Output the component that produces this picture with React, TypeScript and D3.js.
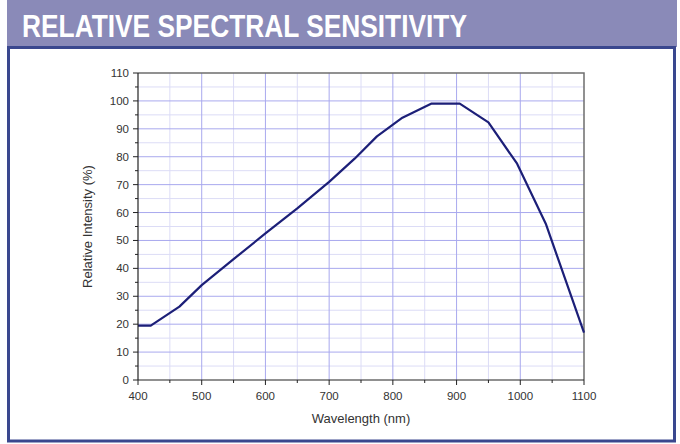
import * as d3 from "d3";
import React from "react";

// wavelength (nm) and relative intensity (%)
const wavelengths = [400, 420, 465, 500, 550, 600, 650, 700, 740, 775, 815, 860, 905, 950, 995, 1040, 1100];
const intensity = [19.5, 19.5, 26.3, 34, 43.3, 52.5, 61.5, 71, 79.3, 87.3, 94, 99, 99, 92.3, 77.5, 56, 17];

const xTicks = [400, 500, 600, 700, 800, 900, 1000, 1100];
const yTicks = [0, 10, 20, 30, 40, 50, 60, 70, 80, 90, 100, 110];

const App = () => {
  const margin = { top: 73, left: 138, right: 584, bottom: 380 };

  const x = d3.scaleLinear().domain([400, 1100]).range([margin.left, margin.right]);
  const y = d3.scaleLinear().domain([0, 110]).range([margin.bottom, margin.top]);

  const xMinor = d3.range(450, 1100, 100);
  const yMinor = d3.range(5, 110, 10);

  const line = d3
    .line<number>()
    .x((d, i) => x(wavelengths[i]))
    .y(d => y(d));

  const font = "Liberation Sans, Arial, sans-serif";

  return (
    <svg
      width={680}
      height={444}
      style={{ position: "absolute", left: 0, top: 0, background: "#fff" }}
    >
      {/* header band */}
      <rect x={7} y={0} width={670} height={47} fill="#8a8ab8" />
      <text
        x={22}
        y={37}
        fill="#fff"
        fontFamily="Liberation Sans Narrow, Liberation Sans, Arial, sans-serif"
        fontWeight="bold"
        fontSize={32}
        textLength={445}
        lengthAdjust="spacingAndGlyphs"
      >
        RELATIVE SPECTRAL SENSITIVITY
      </text>
      <rect x={8.5} y={47.5} width={666} height={393.5} fill="#fff" stroke="#3a478e" strokeWidth={3} />

      {/* grid */}
      <g>
        {xMinor.map(v => (
          <line key={"xm" + v} x1={x(v)} x2={x(v)} y1={margin.top} y2={margin.bottom} stroke="#dcdcf6" strokeWidth={1} />
        ))}
        {yMinor.map(v => (
          <line key={"ym" + v} x1={margin.left} x2={margin.right} y1={y(v)} y2={y(v)} stroke="#dcdcf6" strokeWidth={1} />
        ))}
        {xTicks.slice(1, -1).map(v => (
          <line key={"xg" + v} x1={x(v)} x2={x(v)} y1={margin.top} y2={margin.bottom} stroke="#a9a9ee" strokeWidth={1} />
        ))}
        {yTicks.slice(1, -1).map(v => (
          <line key={"yg" + v} x1={margin.left} x2={margin.right} y1={y(v)} y2={y(v)} stroke="#a9a9ee" strokeWidth={1} />
        ))}
      </g>

      {/* frame top/right */}
      <path
        d={`M${margin.left},${margin.top}H${margin.right}V${margin.bottom}`}
        fill="none"
        stroke="#6e6e6e"
        strokeWidth={1.5}
      />

      {/* curve */}
      <path d={line(intensity) || ""} fill="none" stroke="#1c1f78" strokeWidth={2.2} strokeLinejoin="round" />

      {/* axes */}
      <line x1={margin.left} x2={margin.right} y1={margin.bottom} y2={margin.bottom} stroke="#222" strokeWidth={1.2} />
      <line x1={margin.left} x2={margin.left} y1={margin.top} y2={margin.bottom} stroke="#222" strokeWidth={1.2} />

      {xTicks.map(v => (
        <g key={"xt" + v}>
          <line x1={x(v)} x2={x(v)} y1={margin.bottom} y2={margin.bottom + 5} stroke="#222" />
          <text x={x(v)} y={400} textAnchor="middle" fontFamily={font} fontSize={11.5} fill="#333">
            {v}
          </text>
        </g>
      ))}
      {xMinor.map(v => (
        <line key={"xmt" + v} x1={x(v)} x2={x(v)} y1={margin.bottom} y2={margin.bottom + 3} stroke="#222" />
      ))}
      {yTicks.map(v => (
        <g key={"yt" + v}>
          <line x1={margin.left - 5} x2={margin.left} y1={y(v)} y2={y(v)} stroke="#222" />
          <text x={margin.left - 9} y={y(v) + 4} textAnchor="end" fontFamily={font} fontSize={11.5} fill="#333">
            {v}
          </text>
        </g>
      ))}
      {yMinor.map(v => (
        <line key={"ymt" + v} x1={margin.left - 3} x2={margin.left} y1={y(v)} y2={y(v)} stroke="#222" />
      ))}

      {/* axis titles */}
      <text x={361} y={423} textAnchor="middle" fontFamily={font} fontSize={13} fill="#333">
        Wavelength (nm)
      </text>
      <text
        transform={`translate(92, ${(margin.top + margin.bottom) / 2}) rotate(-90)`}
        textAnchor="middle"
        fontFamily={font}
        fontSize={13}
        fill="#333"
      >
        Relative Intensity (%)
      </text>
    </svg>
  );
};

export default App;
